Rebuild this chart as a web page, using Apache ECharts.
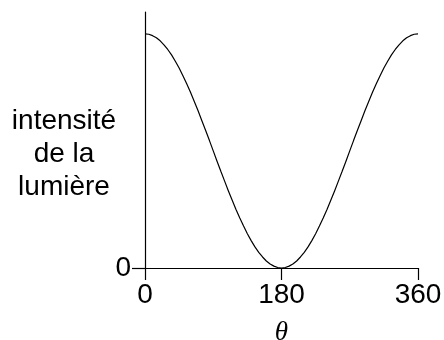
<!DOCTYPE html>
<html><head><meta charset="utf-8">
<script src="https://cdn.jsdelivr.net/npm/echarts@6/dist/echarts.min.js"></script>
<style>html,body{margin:0;padding:0;background:#fff}#c{width:444px;height:340px}</style>
</head><body><div id="c"></div>
<script>
var thetaDeg = [0,5,10,15,20,25,30,35,40,45,50,55,60,65,70,75,80,85,90,95,100,105,110,115,120,125,130,135,140,145,150,155,160,165,170,175,180,
  185,190,195,200,205,210,215,220,225,230,235,240,245,250,255,260,265,270,275,280,285,290,295,300,305,310,315,320,325,330,335,340,345,350,355,360];
var intensity = [1,0.998,0.992,0.983,0.970,0.953,0.933,0.910,0.883,0.854,0.821,0.787,0.750,0.711,0.671,0.629,0.587,0.544,0.5,
  0.456,0.413,0.371,0.329,0.289,0.25,0.213,0.179,0.146,0.117,0.090,0.067,0.047,0.030,0.017,0.008,0.002,0,
  0.002,0.008,0.017,0.030,0.047,0.067,0.090,0.117,0.146,0.179,0.213,0.25,0.289,0.329,0.371,0.413,0.456,0.5,
  0.544,0.587,0.629,0.671,0.711,0.750,0.787,0.821,0.854,0.883,0.910,0.933,0.953,0.970,0.983,0.992,0.998,1];
var xTicks = [0,180,360];
var yTicks = [0];
var yLabel = 'intensité\nde la\nlumière';
var xLabel = 'θ';

var chart = echarts.init(document.getElementById('c'));
var font = 'Liberation Sans, Arial, sans-serif';
chart.setOption({
  animation:false,
  grid:{left:145, right:26, top:12, bottom:72, containLabel:false, outerBoundsMode:'none'},
  xAxis:{type:'value', min:0, max:360, interval:180,
    name:xLabel, nameLocation:'middle', nameGap:51,
    nameTextStyle:{fontFamily:'Liberation Serif, Times New Roman, serif', fontStyle:'italic', fontSize:27, color:'#000'},
    axisLine:{lineStyle:{color:'#000', width:1.2}},
    axisTick:{show:true, length:12, lineStyle:{color:'#000', width:1.2}},
    axisLabel:{fontFamily:font, fontSize:28, color:'#000', margin:13,
      formatter:function(v){return xTicks.indexOf(v)>=0 ? String(v) : '';}},
    splitLine:{show:false}
  },
  yAxis:{type:'value', min:0, max:1.093, interval:1.093,
    axisLine:{show:true, lineStyle:{color:'#000', width:1.2}},
    axisTick:{show:true, length:13, lineStyle:{color:'#000', width:1.2},
      customValues: yTicks},
    axisLabel:{fontFamily:font, fontSize:28, color:'#000', margin:14,
      customValues: yTicks,
      formatter:function(v){return yTicks.indexOf(v)>=0 ? String(v) : '';}},
    splitLine:{show:false}
  },
  graphic:[{type:'text', x:64, y:105,
    style:{text:yLabel, fontFamily:font, fontSize:28, lineHeight:33, fill:'#000', textAlign:'center', textVerticalAlign:'top'}}],
  series:[{type:'line', data:thetaDeg.map(function(t,i){return [t,intensity[i]];}),
    smooth:false, showSymbol:false, lineStyle:{color:'#000', width:1.2}}]
});
</script></body></html>
